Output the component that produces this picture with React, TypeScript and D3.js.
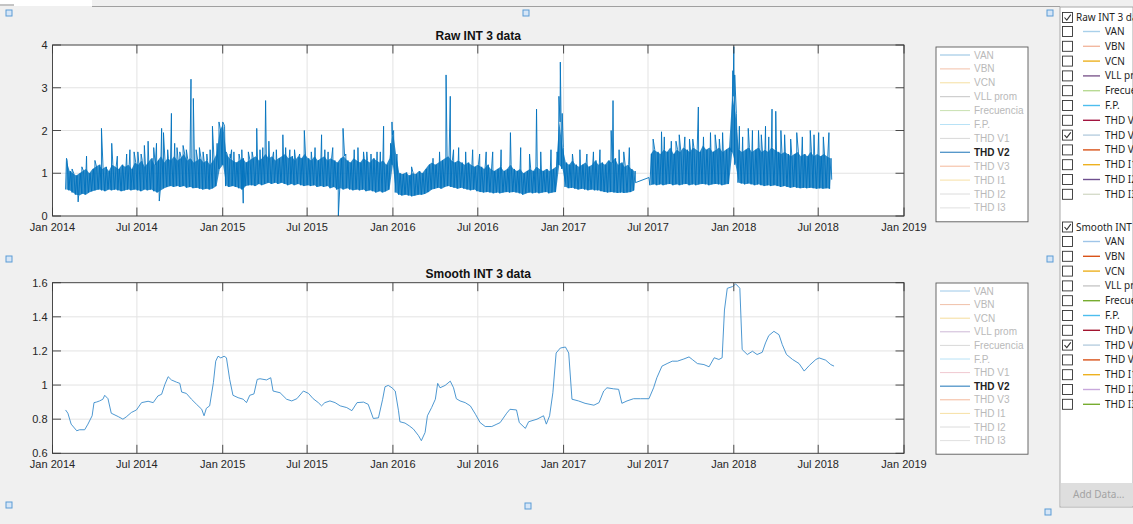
import * as d3 from 'd3';

// ---- data ----
const seriesNames = ['VAN', 'VBN', 'VCN', 'VLL prom', 'Frecuencia', 'F.P.', 'THD V1', 'THD V2', 'THD V3', 'THD I1', 'THD I2', 'THD I3'];
const shownSeries = 'THD V2';

const rawTicks = [0, 1, 2, 3, 4];
const smoothTicks = [0.6, 0.8, 1, 1.2, 1.4, 1.6];

// weekly envelope of the raw THD V2 signal (low / high within each week), starting 2014-01-29
const rawWeekStart = '2014-01-29';
const rawLow: (number | null)[] = [
  // 2014
  0.62, 0.60, 0.55, 0.50, 0.48, 0.52, 0.50, 0.55, 0.58, 0.60,
  0.62, 0.60, 0.58, 0.62, 0.60, 0.62, 0.60, 0.58, 0.60, 0.62,
  0.60, 0.62, 0.60, 0.58, 0.62, 0.60, 0.62, 0.58, 0.55, 0.60,
  0.65, 0.68, 0.70, 0.68, 0.70, 0.68, 0.70, 0.66, 0.68, 0.65,
  0.66, 0.64, 0.62, 0.64, 0.62, 0.65, 0.70, 1.10, 1.20,
  // 2015
  0.70, 0.68, 0.70, 0.68, 0.65, 0.62, 0.70, 0.72, 0.72, 0.70,
  0.75, 0.72, 0.75, 0.78, 0.75, 0.78, 0.75, 0.78, 0.75, 0.72,
  0.75, 0.72, 0.75, 0.72, 0.70, 0.72, 0.70, 0.72, 0.68, 0.70,
  0.68, 0.70, 0.65, 0.68, 0.62, 0.65, 0.62, 0.65, 0.62, 0.60,
  0.62, 0.60, 0.62, 0.58, 0.60, 0.58, 0.55, 0.58, 0.55, 0.58, 0.62, 1.20,
  // 2016
  0.55, 0.50, 0.48, 0.50, 0.48, 0.46, 0.48, 0.50, 0.50, 0.52,
  0.56, 0.62, 0.64, 0.66, 0.64, 0.68, 0.70, 0.68, 0.66, 0.64,
  0.66, 0.64, 0.62, 0.60, 0.62, 0.58, 0.56, 0.55, 0.56, 0.55,
  0.53, 0.55, 0.53, 0.55, 0.56, 0.55, 0.56, 0.55, 0.53, 0.50,
  0.53, 0.55, 0.53, 0.55, 0.53, 0.55, 0.56, 0.53, 0.55, 0.56, 1.20, 1.10,
  // 2017
  0.68, 0.65, 0.66, 0.64, 0.62, 0.64, 0.62, 0.60, 0.62, 0.60,
  0.60, 0.58, 0.56, 0.55, 0.56, 0.55, 0.54, 0.55, 0.54, 0.55,
  0.56, 0.60, null, null, null, null, 0.72, 0.74, 0.72, 0.74,
  0.72, 0.74, 0.75, 0.72, 0.74, 0.72, 0.74, 0.75, 0.72, 0.74,
  0.72, 0.74, 0.75, 0.74, 0.72, 0.74, 0.75, 0.74, 0.72, 0.74, 0.75, 1.50,
  // 2018
  1.20, 0.78, 0.76, 0.74, 0.76, 0.74, 0.72, 0.74, 0.72, 0.70,
  0.72, 0.70, 0.72, 0.70, 0.68, 0.70, 0.68, 0.66, 0.68, 0.66,
  0.65, 0.66, 0.65, 0.66, 0.65, 0.64, 0.65, 0.64, 0.65, 0.64,
];
const rawHigh: (number | null)[] = [
  // 2014
  1.30, 1.05, 1.00, 0.95, 1.00, 1.05, 1.10, 1.00, 1.10, 1.15,
  1.20, 1.10, 1.15, 1.05, 1.20, 1.15, 1.10, 1.20, 1.15, 1.20,
  1.10, 1.25, 1.20, 1.30, 1.15, 1.25, 1.35, 1.20, 1.30, 1.40,
  1.25, 1.35, 1.30, 1.40, 1.30, 1.35, 1.45, 1.30, 1.35, 1.25,
  1.30, 1.35, 1.25, 1.30, 1.20, 1.30, 1.45, 2.00, 2.15,
  // 2015
  1.45, 1.35, 1.30, 1.25, 1.30, 1.35, 1.25, 1.30, 1.35, 1.40,
  1.30, 1.35, 1.45, 1.35, 1.40, 1.30, 1.35, 1.40, 1.45, 1.35,
  1.40, 1.30, 1.40, 1.35, 1.45, 1.35, 1.30, 1.40, 1.30, 1.35,
  1.40, 1.30, 1.35, 1.30, 1.25, 1.35, 1.40, 1.30, 1.25, 1.35,
  1.30, 1.25, 1.35, 1.30, 1.25, 1.35, 1.30, 1.25, 1.30, 1.20, 1.35, 2.00,
  // 2016
  1.45, 1.00, 0.98, 1.02, 0.95, 1.00, 0.98, 1.05, 1.00, 1.10,
  1.20, 1.25, 1.20, 1.25, 1.30, 1.35, 1.40, 1.30, 1.25, 1.30,
  1.25, 1.20, 1.25, 1.20, 1.15, 1.20, 1.15, 1.10, 1.20, 1.10,
  1.05, 1.10, 1.15, 1.05, 1.10, 1.20, 1.10, 1.05, 1.10, 1.00,
  1.05, 1.10, 1.05, 1.15, 1.10, 1.05, 1.10, 1.05, 1.10, 1.15, 2.20, 1.60,
  // 2017
  1.25, 1.20, 1.30, 1.20, 1.15, 1.20, 1.25, 1.15, 1.20, 1.30,
  1.20, 1.25, 1.20, 1.30, 1.25, 1.35, 1.20, 1.25, 1.15, 1.20,
  1.10, 1.05, null, null, null, null, 1.45, 1.55, 1.50, 1.45,
  1.55, 1.50, 1.60, 1.45, 1.55, 1.50, 1.60, 1.55, 1.50, 1.60,
  1.55, 1.50, 1.65, 1.55, 1.60, 1.50, 1.55, 1.60, 1.50, 1.55, 1.60, 2.80,
  // 2018
  2.40, 1.55, 1.50, 1.55, 1.60, 1.50, 1.55, 1.60, 1.50, 1.55,
  1.50, 1.60, 1.55, 1.50, 1.45, 1.50, 1.45, 1.40, 1.45, 1.50,
  1.40, 1.45, 1.40, 1.50, 1.40, 1.45, 1.40, 1.45, 1.40, 1.35,
];

// large spikes / dips of the raw signal
const peakDates = [
  '2014-01-31', '2014-02-25', '2014-03-15', '2014-04-16', '2014-05-08', '2014-06-09', '2014-06-25', '2014-07-10',
  '2014-07-25', '2014-08-06', '2014-08-18', '2014-08-23', '2014-08-27', '2014-09-13', '2014-09-25', '2014-10-01',
  '2014-10-25', '2014-10-30', '2014-11-05', '2014-11-20', '2014-12-10', '2014-12-20', '2014-12-24', '2014-12-28',
  '2015-01-01', '2015-01-05', '2015-01-08', '2015-01-17', '2015-01-25', '2015-02-11', '2015-02-14', '2015-02-25',
  '2015-03-15', '2015-03-28', '2015-04-03', '2015-04-20', '2015-05-10', '2015-05-25', '2015-06-25', '2015-07-10',
  '2015-08-01', '2015-08-15', '2015-09-06', '2015-09-16', '2015-10-10', '2015-10-30', '2015-11-15', '2015-11-28',
  '2015-12-12', '2015-12-27', '2015-12-30', '2015-12-31', '2016-01-03', '2016-03-27', '2016-04-24', '2016-05-03',
  '2016-05-21', '2016-07-19', '2016-09-09', '2016-11-04', '2016-11-13', '2016-12-18', '2016-12-22', '2016-12-25',
  '2016-12-29', '2017-01-01', '2017-01-20', '2017-03-06', '2017-04-13', '2017-04-17', '2017-04-30', '2017-06-04',
  '2017-07-03', '2017-07-12', '2017-07-30', '2017-08-20', '2017-09-06', '2017-09-28', '2017-10-17', '2017-11-12',
  '2017-12-08', '2017-12-23', '2017-12-30', '2018-01-01', '2018-01-03', '2018-01-13', '2018-02-01', '2018-02-23',
  '2018-03-10', '2018-03-24', '2018-04-01', '2018-04-12', '2018-05-16', '2018-06-14', '2018-07-02', '2018-07-24',
  '2018-07-30',
];
const peakValues = [
  1.35, 0.33, 1.40, 2.05, 1.70, 1.45, 1.50, 1.45,
  1.75, 1.60, 0.35, 2.05, 1.95, 2.40, 1.60, 1.50,
  3.20, 2.75, 1.55, 1.50, 2.10, 1.70, 2.20, 1.90,
  2.20, 2.10, 1.50, 1.45, 1.50, 1.55, 0.30, 1.50,
  2.05, 1.60, 2.70, 1.50, 1.90, 1.55, 2.00, 1.50,
  1.90, 1.50, 0.00, 2.05, 1.55, 1.50, 1.45, 1.50,
  2.10, 1.70, 2.20, 1.90, 1.60, 1.35, 3.30, 2.80,
  1.60, 1.50, 1.95, 2.50, 1.50, 1.50, 2.80, 3.60,
  2.40, 1.40, 1.45, 1.50, 2.00, 2.70, 1.55, 0.78,
  0.90, 1.80, 1.97, 1.75, 1.90, 1.80, 2.55, 1.95,
  1.95, 1.60, 3.40, 3.96, 3.30, 2.10, 2.05, 2.00,
  2.10, 2.50, 2.45, 2.00, 1.95, 2.00, 1.95, 1.95,
  0.85,
];

// smaller spikes poking out of the band
const minorDates = [
  '2014-02-12', '2014-03-05', '2014-04-02', '2014-05-20', '2014-06-16', '2014-07-03', '2014-07-17', '2014-08-12',
  '2014-09-05', '2014-09-20', '2014-10-08', '2014-10-15', '2014-11-12', '2014-11-28', '2014-12-05',
  '2015-01-20', '2015-02-05', '2015-03-05', '2015-03-22', '2015-04-10', '2015-04-26', '2015-05-16', '2015-06-04',
  '2015-06-15', '2015-07-18', '2015-08-08', '2015-08-25', '2015-09-22', '2015-10-18', '2015-11-06', '2015-12-05',
  '2016-02-10', '2016-04-10', '2016-05-10', '2016-06-05', '2016-06-20', '2016-07-05', '2016-08-02', '2016-08-20',
  '2016-10-01', '2016-10-20', '2016-12-05', '2017-02-05', '2017-02-20', '2017-03-20', '2017-05-10', '2017-05-22',
  '2017-08-05', '2017-08-30', '2017-09-18', '2017-10-05', '2017-10-28', '2017-11-22', '2017-12-01',
  '2018-01-20', '2018-02-10', '2018-03-01', '2018-03-17', '2018-04-20', '2018-05-03', '2018-05-28', '2018-06-22',
  '2018-07-12',
];
const minorValues = [
  1.10, 1.15, 1.30, 1.40, 1.55, 1.50, 1.65, 1.70,
  1.55, 1.70, 1.65, 1.55, 1.60, 1.45, 1.55,
  1.55, 1.45, 1.50, 1.55, 1.75, 1.55, 1.60, 1.55,
  1.45, 1.60, 1.55, 1.60, 1.45, 1.60, 1.50, 1.50,
  1.15, 1.50, 1.55, 1.50, 1.55, 1.45, 1.50, 1.55,
  1.60, 1.45, 1.55, 1.55, 1.45, 1.55, 1.50, 1.60,
  1.85, 1.75, 1.85, 1.80, 1.85, 1.90, 1.80,
  1.85, 2.00, 1.90, 1.85, 1.90, 1.80, 1.85, 1.90,
  1.85,
];

// smoothed THD V2
const smoothDates = [
  '2014-01-29', '2014-02-03', '2014-02-10', '2014-02-22', '2014-02-28', '2014-03-11', '2014-03-18', '2014-03-27',
  '2014-03-31', '2014-04-05', '2014-04-12', '2014-04-19', '2014-04-23', '2014-04-30', '2014-05-07', '2014-05-22',
  '2014-06-01', '2014-06-08', '2014-06-19', '2014-06-30', '2014-07-11', '2014-07-25', '2014-08-05', '2014-08-15',
  '2014-08-23', '2014-08-30', '2014-09-06', '2014-09-13', '2014-09-24', '2014-10-01', '2014-10-05', '2014-10-15',
  '2014-10-26', '2014-11-06', '2014-11-17', '2014-11-22', '2014-11-27', '2014-12-04', '2014-12-12', '2014-12-17',
  '2014-12-22', '2014-12-28', '2015-01-04', '2015-01-09', '2015-01-16', '2015-01-23', '2015-02-03', '2015-02-14',
  '2015-02-21', '2015-02-28', '2015-03-09', '2015-03-16', '2015-03-22', '2015-04-05', '2015-04-14', '2015-04-19',
  '2015-05-04', '2015-05-18', '2015-05-29', '2015-06-09', '2015-06-23', '2015-07-04', '2015-07-14', '2015-07-25',
  '2015-08-01', '2015-08-08', '2015-08-19', '2015-08-30', '2015-09-10', '2015-09-24', '2015-10-05', '2015-10-16',
  '2015-10-30', '2015-11-09', '2015-11-20', '2015-12-01', '2015-12-10', '2015-12-15', '2015-12-22', '2015-12-30',
  '2016-01-06', '2016-01-13', '2016-01-16', '2016-01-27', '2016-02-05', '2016-02-14', '2016-02-25', '2016-03-02',
  '2016-03-10', '2016-03-15', '2016-03-24', '2016-04-01', '2016-04-06', '2016-04-11', '2016-04-22', '2016-05-03',
  '2016-05-10', '2016-05-16', '2016-05-24', '2016-06-04', '2016-06-15', '2016-06-26', '2016-07-06', '2016-07-17',
  '2016-07-31', '2016-08-11', '2016-08-18', '2016-09-01', '2016-09-08', '2016-09-22', '2016-09-28', '2016-10-11',
  '2016-10-18', '2016-11-05', '2016-11-19', '2016-11-25', '2016-12-02', '2016-12-09', '2016-12-16', '2016-12-25',
  '2017-01-05', '2017-01-12', '2017-01-19', '2017-02-02', '2017-02-16', '2017-03-07', '2017-03-18', '2017-03-28',
  '2017-04-04', '2017-04-18', '2017-04-29', '2017-05-06', '2017-05-17', '2017-05-31', '2017-06-15', '2017-07-03',
  '2017-07-13', '2017-07-20', '2017-07-31', '2017-08-11', '2017-08-22', '2017-09-02', '2017-09-16', '2017-09-27',
  '2017-10-04', '2017-10-15', '2017-10-29', '2017-11-09', '2017-11-20', '2017-11-30', '2017-12-07', '2017-12-12',
  '2017-12-18', '2017-12-29', '2018-01-05', '2018-01-10', '2018-01-14', '2018-01-19', '2018-01-30', '2018-02-10',
  '2018-02-20', '2018-03-03', '2018-03-10', '2018-03-17', '2018-03-28', '2018-04-08', '2018-04-15', '2018-04-24',
  '2018-05-07', '2018-05-21', '2018-06-01', '2018-06-12', '2018-06-26', '2018-07-03', '2018-07-17', '2018-07-28',
  '2018-08-04',
];
const smoothValues = [
  0.854, 0.835, 0.771, 0.732, 0.738, 0.738, 0.771, 0.820,
  0.897, 0.900, 0.907, 0.917, 0.940, 0.920, 0.835, 0.815,
  0.800, 0.813, 0.839, 0.854, 0.897, 0.905, 0.897, 0.936,
  0.946, 1.004, 1.049, 1.030, 1.017, 1.010, 0.959, 0.951,
  0.917, 0.887, 0.858, 0.820, 0.864, 0.878, 1.014, 1.140,
  1.169, 1.159, 1.169, 1.160, 1.033, 0.940, 0.926, 0.917,
  0.897, 0.940, 0.948, 1.033, 1.037, 1.030, 1.043, 0.965,
  0.955, 0.917, 0.907, 0.920, 0.965, 0.951, 0.920, 0.897,
  0.878, 0.897, 0.907, 0.897, 0.878, 0.868, 0.850, 0.897,
  0.900, 0.887, 0.804, 0.808, 0.917, 0.990, 0.998, 0.984,
  0.965, 0.849, 0.785, 0.777, 0.761, 0.742, 0.703, 0.674,
  0.722, 0.820, 0.868, 0.917, 1.010, 0.984, 0.998, 1.023,
  0.984, 0.920, 0.907, 0.897, 0.878, 0.829, 0.780, 0.757,
  0.757, 0.771, 0.780, 0.835, 0.858, 0.854, 0.780, 0.746,
  0.785, 0.800, 0.820, 0.771, 0.820, 0.955, 1.188, 1.217,
  1.223, 1.188, 0.917, 0.907, 0.893, 0.882, 0.897, 0.965,
  0.984, 0.978, 0.975, 0.893, 0.907, 0.920, 0.920, 0.920,
  0.984, 1.043, 1.111, 1.126, 1.140, 1.140, 1.153, 1.165,
  1.150, 1.126, 1.120, 1.107, 1.160, 1.150, 1.160, 1.440,
  1.567, 1.577, 1.592, 1.580, 1.567, 1.208, 1.179, 1.198,
  1.179, 1.192, 1.247, 1.290, 1.315, 1.295, 1.237, 1.179,
  1.150, 1.126, 1.082, 1.115, 1.150, 1.159, 1.146, 1.120,
  1.111,
];

// legend / browser colours
const legendColorsRaw = ['#8fbfe0', '#f3c0a8', '#f5dfa0', '#c4c4c4', '#c8e0b0', '#b8e2f6', '#d8d8d8', '#4f93c8', '#f4b89a', '#f7e0a4', '#dcdcdc', '#e0e0e0'];
const legendColorsSmooth = ['#9cc8e8', '#f0c0a8', '#f5dc9c', '#cdb8d6', '#d8d8d8', '#b8e2f6', '#f0c8d0', '#4f93c8', '#f4b89a', '#f7e0a4', '#dcdcdc', '#e0e0e0'];
const panelColorsRaw = ['#a9d0ea', '#f2b8a0', '#edb120', '#7e5a8e', '#b8da94', '#4dbeee', '#a2143f', '#b8cfe0', '#d95319', '#edb120', '#6e4f8e', '#d6dccb'];
const panelColorsSmooth = ['#9fc5e8', '#d95319', '#edb120', '#c8c8c8', '#77ac30', '#4dbeee', '#a2142f', '#b8cfe0', '#d95319', '#edb120', '#c8a8dc', '#77ac30'];

// ---- drawing ----
const W = 1133;
const H = 524;
const DAY = 864e5;
const parse = d3.utcParse('%Y-%m-%d');
const AX_FONT = '"Liberation Sans", Arial, sans-serif';
const UI_FONT = '"Noto Sans", "Open Sans", sans-serif';

type Pt = { t: Date; v: number };
type Band = { t: Date; lo: number | null; hi: number | null };

const weekT0 = parse(rawWeekStart)!.getTime();

function buildRaw(): Pt[] {
  const pts: Pt[] = [];
  rawLow.forEach((lo, i) => {
    const hi = rawHigh[i];
    if (lo == null || hi == null) return;
    pts.push({ t: new Date(weekT0 + i * 7 * DAY), v: lo });
    pts.push({ t: new Date(weekT0 + (i * 7 + 3.5) * DAY), v: hi });
  });
  peakDates.forEach((d, i) => pts.push({ t: parse(d)!, v: peakValues[i] }));
  minorDates.forEach((d, i) => pts.push({ t: parse(d)!, v: minorValues[i] }));
  pts.sort((a, b) => a.t.getTime() - b.t.getTime());
  return pts;
}

const rawBand: Band[] = rawLow.map((lo, i) => ({ t: new Date(weekT0 + (i * 7 + 1.75) * DAY), lo, hi: rawHigh[i] }));
const smoothPts: Pt[] = smoothDates.map((d, i) => ({ t: parse(d)!, v: smoothValues[i] }));

const x = d3.scaleUtc()
  .domain([parse('2014-01-01')!, parse('2019-01-01')!])
  .range([52.5, 904]);
const fmtDate = d3.utcFormat('%b %Y');

function Plot({ id, top, bottom, ticks, title, data, band, stroke, strokeWidth, legendTop, legendStep, legendColors }: {
  id: string; top: number; bottom: number; ticks: number[]; title: string; data: Pt[]; band?: Band[];
  stroke: string; strokeWidth: number; legendTop: number; legendStep: number; legendColors: string[];
}) {
  const y = d3.scaleLinear().domain([ticks[0], ticks[ticks.length - 1]]).range([bottom, top]);
  const [x0, x1] = x.range();
  const xt = x.ticks(d3.utcMonth.every(6)!);
  const line = d3.line<Pt>().x(d => x(d.t)).y(d => y(d.v));
  const area = d3.area<Band>()
    .defined(d => d.lo != null && d.hi != null)
    .x(d => x(d.t))
    .y0(d => y(d.lo as number))
    .y1(d => y(d.hi as number));
  const tl = 8.5;
  const legH = legendStep * 12 + 8;
  return (
    <g>
      <text x={(x0 + x1) / 2} y={top - 5} textAnchor="middle" fontFamily={AX_FONT} fontSize={12} fontWeight="bold" fill="#111">{title}</text>
      <rect x={x0} y={top} width={x1 - x0} height={bottom - top} fill="#fff" />
      {xt.map((t, i) => (
        <line key={'gx' + i} x1={x(t)} x2={x(t)} y1={top} y2={bottom} stroke="#e3e3e3" strokeWidth={1} />
      ))}
      {ticks.map((v, i) => (
        <line key={'gy' + i} x1={x0} x2={x1} y1={y(v)} y2={y(v)} stroke="#e3e3e3" strokeWidth={1} />
      ))}
      <clipPath id={id}>
        <rect x={x0} y={top} width={x1 - x0} height={bottom - top} />
      </clipPath>
      <g clipPath={`url(#${id})`}>
        {band && <path d={area(band) ?? ''} fill={stroke} fillOpacity={0.8} />}
        <path d={line(data) ?? ''} fill="none" stroke={stroke} strokeWidth={strokeWidth} strokeLinejoin="round" />
      </g>
      <rect x={x0} y={top} width={x1 - x0} height={bottom - top} fill="none" stroke="#3a3a3a" strokeWidth={0.9} />
      {xt.map((t, i) => (
        <g key={'tx' + i}>
          <line x1={x(t)} x2={x(t)} y1={bottom} y2={bottom - tl} stroke="#3a3a3a" strokeWidth={0.9} />
          <line x1={x(t)} x2={x(t)} y1={top} y2={top + tl} stroke="#3a3a3a" strokeWidth={0.9} />
          <text x={x(t)} y={bottom + 15} textAnchor="middle" fontFamily={AX_FONT} fontSize={11} fill="#262626">{fmtDate(t)}</text>
        </g>
      ))}
      {ticks.map((v, i) => (
        <g key={'ty' + i}>
          <line x1={x0} x2={x0 + tl} y1={y(v)} y2={y(v)} stroke="#3a3a3a" strokeWidth={0.9} />
          <line x1={x1} x2={x1 - tl} y1={y(v)} y2={y(v)} stroke="#3a3a3a" strokeWidth={0.9} />
          <text x={x0 - 5} y={y(v) + 4} textAnchor="end" fontFamily={AX_FONT} fontSize={11} fill="#262626">{String(v)}</text>
        </g>
      ))}
      <rect x={936} y={legendTop} width={92} height={legH} fill="#fff" stroke="#5a5a5a" strokeWidth={0.9} />
      {seriesNames.map((n, i) => {
        const ly = legendTop + 8 + legendStep * i;
        const on = n === shownSeries;
        return (
          <g key={'lg' + i}>
            <line x1={940} x2={970} y1={ly} y2={ly} stroke={legendColors[i]} strokeWidth={on ? 1.3 : 1} />
            <text x={974} y={ly + 3.5} fontFamily={AX_FONT} fontSize={10} fontWeight={on ? 'bold' : 'normal'} fill={on ? '#222' : '#b9b9b9'}>{n}</text>
          </g>
        );
      })}
    </g>
  );
}

function Handle({ cx, cy }: { cx: number; cy: number }) {
  return <rect x={cx - 3} y={cy - 3} width={6} height={6} fill="#d6e6f7" stroke="#5b9bd5" strokeWidth={1} />;
}

function CheckBox({ px, py, checked }: { px: number; py: number; checked: boolean }) {
  return (
    <g>
      <rect x={px + 0.5} y={py - 5} width={10} height={10} fill="#fff" stroke="#333" strokeWidth={0.9} />
      {checked && <path d={`M${px + 2.5},${py} L${px + 4.8},${py + 2.6} L${px + 8.8},${py - 2.8}`} fill="none" stroke="#333" strokeWidth={1.1} />}
    </g>
  );
}

function Browser() {
  const groups = [
    { label: 'Raw INT 3 data', y: 17.5, first: 31.5, colors: panelColorsRaw },
    { label: 'Smooth INT 3 data', y: 227, first: 241.5, colors: panelColorsSmooth },
  ];
  const step = 14.8;
  return (
    <g>
      <clipPath id="panelclip">
        <rect x={1060} y={7} width={W - 1060} height={500} />
      </clipPath>
      <rect x={1060} y={7} width={W - 1060} height={500} fill="#fff" stroke="#a8a8a8" strokeWidth={1} />
      <g clipPath="url(#panelclip)" fontFamily={UI_FONT} fontSize={10} fill="#1e1e1e">
        {groups.map((g, gi) => (
          <g key={'grp' + gi}>
            <CheckBox px={1062} py={g.y} checked={true} />
            <text x={1076} y={g.y + 3.5}>{g.label}</text>
            {seriesNames.map((n, i) => {
              const ry = g.first + step * i;
              return (
                <g key={'r' + i}>
                  <CheckBox px={1062} py={ry} checked={n === shownSeries} />
                  <line x1={1083} x2={1100} y1={ry} y2={ry} stroke={g.colors[i]} strokeWidth={1.4} />
                  <text x={1105} y={ry + 3.5}>{n}</text>
                </g>
              );
            })}
          </g>
        ))}
        <rect x={1061} y={483} width={W - 1061} height={23} fill="#dedede" />
        <text x={1073} y={498} fill="#a3a3a3">Add Data...</text>
      </g>
    </g>
  );
}

export default function App() {
  const rawPts = buildRaw();
  return (
    <div style={{ position: 'fixed', left: 0, top: 0, width: W, height: H }}>
      <svg width={W} height={H} style={{ display: 'block' }}>
        <rect width={W} height={H} fill="#f0f0f0" />
        <rect x={0} y={0} width={92} height={6} fill="#fff" />
        <line x1={0} x2={14} y1={5} y2={5} stroke="#8a8a8a" />
        <line x1={92} x2={1060} y1={6.5} y2={6.5} stroke="#a0a0a0" />
        <Plot id="rawclip" top={45} bottom={216} ticks={rawTicks} title="Raw INT 3 data" data={rawPts} band={rawBand}
          stroke="#0072bd" strokeWidth={0.9} legendTop={47} legendStep={13.9} legendColors={legendColorsRaw} />
        <Plot id="smoothclip" top={282.7} bottom={453.3} ticks={smoothTicks} title="Smooth INT 3 data" data={smoothPts}
          stroke="#3a8ccc" strokeWidth={0.9} legendTop={283} legendStep={13.6} legendColors={legendColorsSmooth} />
        <Browser />
        <Handle cx={9} cy={13} />
        <Handle cx={526} cy={13} />
        <Handle cx={1050} cy={13} />
        <Handle cx={9} cy={259} />
        <Handle cx={1050} cy={259} />
        <Handle cx={9} cy={505} />
        <Handle cx={528} cy={506} />
        <Handle cx={1048} cy={512} />
      </svg>
    </div>
  );
}
